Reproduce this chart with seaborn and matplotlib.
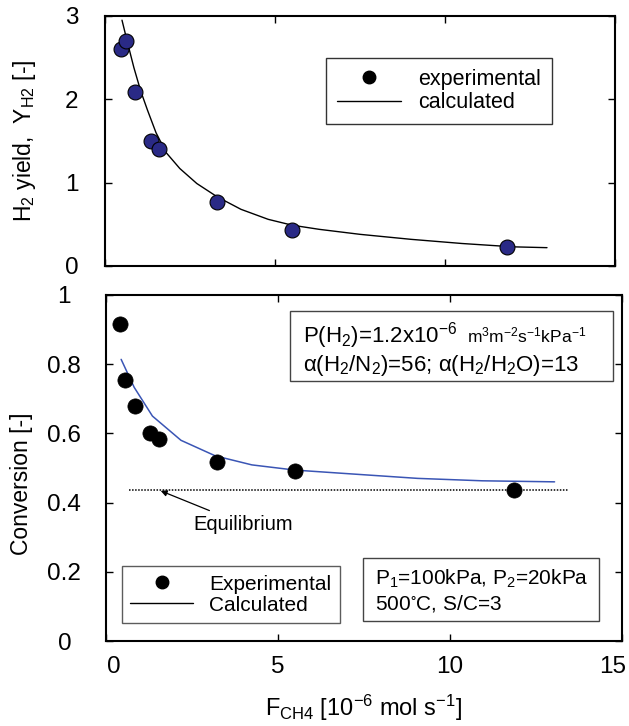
import numpy as np
import pandas as pd
import matplotlib
matplotlib.use("Agg")
import matplotlib.pyplot as plt
import matplotlib.transforms as mtransforms
from matplotlib.patches import Rectangle
import seaborn as sns
from matplotlib.lines import Line2D

# ---------------- data ----------------
# top panel: H2 yield
exp_x_top = [0.46, 0.62, 0.88, 1.35, 1.60, 3.28, 5.51, 11.81]
exp_y_top = [2.61, 2.70, 2.09, 1.50, 1.40, 0.77, 0.43, 0.23]
calc_x_top = [0.50, 0.65, 0.85, 1.05, 1.25, 1.50, 1.80, 2.20, 2.70, 3.30, 4.00,
              4.80, 5.50, 6.30, 7.50, 9.00, 10.50, 12.00, 13.00]
calc_y_top = [2.95, 2.70, 2.38, 2.10, 1.87, 1.60, 1.36, 1.17, 0.99, 0.83, 0.68,
              0.56, 0.49, 0.44, 0.38, 0.32, 0.27, 0.23, 0.22]

# bottom panel: conversion
exp_x_bot = [0.41, 0.54, 0.85, 1.27, 1.54, 3.24, 5.49, 11.85]
exp_y_bot = [0.915, 0.754, 0.68, 0.60, 0.585, 0.516, 0.49, 0.436]
calc_x_bot = [0.44, 0.82, 1.35, 2.18, 3.18, 4.24, 5.49, 6.82, 9.06, 10.94, 13.04]
calc_y_bot = [0.814, 0.733, 0.65, 0.58, 0.535, 0.509, 0.494, 0.485, 0.47, 0.463, 0.46]
equil_x = [0.68, 13.47]
equil_y = [0.437, 0.437]

x_ticks = [0, 5, 10, 15]
x_tick_labels = ["0", "5", "10", "15"]
y_ticks_top = [0, 1, 2, 3]
y_tick_labels_top = ["0", "1", "2", "3"]
y_ticks_bot = [0, 0.2, 0.4, 0.6, 0.8, 1.0]
y_tick_labels_bot = ["0", "0.2", "0.4", "0.6", "0.8", "1"]

df_exp_top = pd.DataFrame({"x": exp_x_top, "y": exp_y_top})
df_calc_top = pd.DataFrame({"x": calc_x_top, "y": calc_y_top})
df_exp_bot = pd.DataFrame({"x": exp_x_bot, "y": exp_y_bot})
df_calc_bot = pd.DataFrame({"x": calc_x_bot, "y": calc_y_bot})

# ---------------- style ----------------
sns.set_style("ticks")
plt.rcParams["font.family"] = ["Liberation Sans", "DejaVu Sans"]
plt.rcParams["mathtext.fontset"] = "custom"
plt.rcParams["mathtext.rm"] = "Liberation Sans"
plt.rcParams["mathtext.it"] = "Liberation Sans"
plt.rcParams["mathtext.default"] = "regular"
for k in ["text.color", "axes.labelcolor", "xtick.color", "ytick.color",
          "axes.edgecolor"]:
    plt.rcParams[k] = "black"

fig = plt.figure(figsize=(6.29, 7.26), dpi=100)
ax1 = fig.add_axes([105 / 629, 1 - 266 / 726, 510 / 629, 250 / 726])
ax2 = fig.add_axes([106 / 629, 1 - 641 / 726, 516 / 629, 346 / 726])

navy = "#2a2a86"
blue = "#3a55b5"

# ---- top panel ----
sns.lineplot(data=df_calc_top, x="x", y="y", ax=ax1, color="black", lw=1.0,
             sort=False, estimator=None)
sns.scatterplot(data=df_exp_top, x="x", y="y", ax=ax1, color=navy, s=115,
                edgecolor="black", linewidth=0.8, zorder=3)

# ---- bottom panel ----
sns.lineplot(x=equil_x, y=equil_y, ax=ax2, color="black", lw=1.1,
             linestyle=(0, (1, 1)), estimator=None)
sns.lineplot(data=df_calc_bot, x="x", y="y", ax=ax2, color=blue, lw=1.1,
             sort=False, estimator=None)
sns.scatterplot(data=df_exp_bot, x="x", y="y", ax=ax2, color="black", s=120,
                edgecolor="black", linewidth=0.5, zorder=3)

for ax in (ax1, ax2):
    ax.set_xlim(0, 15)
    ax.set_xticks(x_ticks)
    ax.tick_params(direction="in", top=True, right=True, length=5, width=1,
                   labelsize=17.5)
    for s in ax.spines.values():
        s.set_linewidth(1.5)
    ax.set_xlabel("")
    ax.set_ylabel("")

ax1.set_ylim(0, 3)
ax1.set_yticks(y_ticks_top)
ax1.set_yticklabels(y_tick_labels_top)
ax1.set_xticklabels([])
ax1.tick_params(axis="y", pad=24)
for t in ax1.get_yticklabels():
    t.set_horizontalalignment("center")

ax2.set_ylim(0, 1)
ax2.set_yticks(y_ticks_bot)
ax2.set_yticklabels(y_tick_labels_bot)
ax2.set_xticklabels(x_tick_labels)
ax2.tick_params(axis="y", pad=30)
ax2.tick_params(axis="x", pad=11)
for t in ax2.get_yticklabels():
    t.set_horizontalalignment("center")
xl = ax2.get_xticklabels()
xl[0].set_transform(xl[0].get_transform() +
                    mtransforms.ScaledTranslation(8 / 100, 0, fig.dpi_scale_trans))
xl[-1].set_transform(xl[-1].get_transform() +
                     mtransforms.ScaledTranslation(-9 / 100, 0, fig.dpi_scale_trans))

ax1.set_ylabel("H$_2$ yield,  Y$_{H2}$ [-]", fontsize=16.5)
ax1.yaxis.set_label_coords(-0.131, 0.5)
ax2.set_ylabel("Conversion [-]", fontsize=16.5)
ax2.yaxis.set_label_coords(-0.141, 0.454)
ax2.set_xlabel("F$_{CH4}$ [10$^{-6}$ mol s$^{-1}$]", fontsize=17)
ax2.xaxis.set_label_coords(0.5, -0.15)

# legends
h_exp = Line2D([], [], marker="o", color="black", linestyle="none", markersize=9)
h_calc = Line2D([], [], color="black", lw=1.0)
leg1 = ax1.legend([h_exp, h_calc], ["experimental", "calculated"],
                  loc="upper left", bbox_to_anchor=(0.433, 0.832),
                  fontsize=15.5, frameon=True, fancybox=False, handlelength=3.0,
                  handletextpad=0.8, borderpad=0.5, labelspacing=0.12,
                  borderaxespad=0)
leg1.get_frame().set_edgecolor("black")
leg1.get_frame().set_linewidth(1.0)

leg2 = ax2.legend([h_exp, h_calc], ["Experimental", "Calculated"],
                  loc="lower left", bbox_to_anchor=(0.031, 0.052),
                  fontsize=15, frameon=True, fancybox=False, handlelength=3.0,
                  handletextpad=0.8, borderpad=0.4, labelspacing=0.1,
                  borderaxespad=0)
leg2.get_frame().set_edgecolor("#333333")
leg2.get_frame().set_linewidth(1.0)

# text boxes
ax2.add_patch(Rectangle((5.35, 0.751), 14.74 - 5.35, 0.954 - 0.751,
                        fc="white", ec="#444444", lw=1.0, zorder=4))
ax2.text(5.73, 0.864, "P(H$_2$)=1.2x10$^{-6}$", fontsize=16, ha="left",
         va="baseline", zorder=5)
ax2.text(10.50, 0.864, "m$^3$m$^{-2}$s$^{-1}$kPa$^{-1}$", fontsize=12.5,
         ha="left", va="baseline", zorder=5)
ax2.text(5.73, 0.780, "α(H$_2$/N$_2$)=56; α(H$_2$/H$_2$O)=13", fontsize=16,
         ha="left", va="baseline", zorder=5)

ax2.add_patch(Rectangle((7.48, 0.058), 14.32 - 7.48, 0.239 - 0.058,
                        fc="white", ec="#444444", lw=1.0, zorder=4))
ax2.text(7.81, 0.162, "P$_1$=100kPa, P$_2$=20kPa", fontsize=15, ha="left",
         va="baseline", zorder=5)
ax2.text(7.81, 0.090, "500$^{\\circ}$C, S/C=3", fontsize=15, ha="left",
         va="baseline", zorder=5)

ax2.annotate("Equilibrium", xy=(1.59, 0.434), xytext=(2.55, 0.337),
             fontsize=14.5, ha="left", va="center",
             arrowprops=dict(arrowstyle="-|>", color="black", lw=0.9,
                             mutation_scale=9, shrinkA=2, shrinkB=0))

fig.savefig("out.png", dpi=100)
